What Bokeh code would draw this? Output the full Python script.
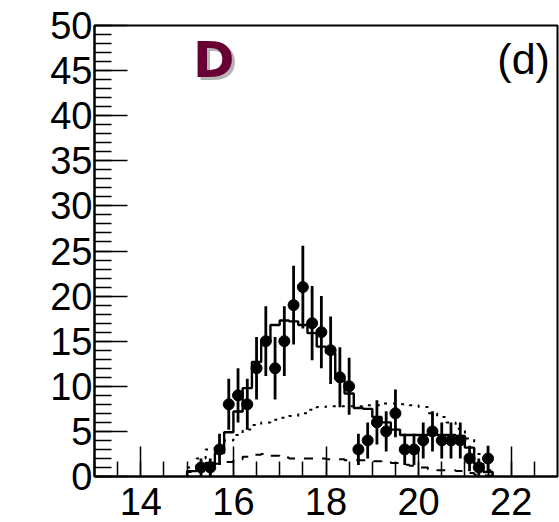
from bokeh.plotting import figure
from bokeh.models import FixedTicker, Label, Range1d
from bokeh.embed import file_html
from bokeh.resources import INLINE

# ---- data ----
pt_x = [15.3, 15.5, 15.7, 15.9, 16.1, 16.3, 16.5, 16.7, 16.9, 17.1, 17.3, 17.5,
        17.7, 17.9, 18.1, 18.3, 18.5, 18.7, 18.9, 19.1, 19.3, 19.5, 19.7, 19.9,
        20.1, 20.3, 20.5, 20.7, 20.9, 21.1, 21.3, 21.5]
pt_y = [1, 1, 3, 8, 9, 8, 12, 15, 12, 15, 19, 21, 17, 16, 14, 11, 10, 3, 4, 6,
        5, 7, 3, 3, 4, 5, 4, 4, 4, 2, 1, 2]
pt_err = [1.0, 1.0, 1.73, 2.83, 3.0, 2.83, 3.46, 3.87, 3.46, 3.87, 4.36, 4.58,
          4.12, 4.0, 3.74, 3.32, 3.16, 1.73, 2.0, 2.45, 2.24, 2.65, 1.73, 1.73,
          2.0, 2.24, 2.0, 2.0, 2.0, 1.41, 1.0, 1.41]

hist_edges = [15.0, 15.2, 15.4, 15.6, 15.8, 16.0, 16.2, 16.4, 16.6, 16.8, 17.0,
              17.2, 17.4, 17.6, 17.8, 18.0, 18.2, 18.4, 18.6, 18.8, 19.0, 19.2,
              19.4, 19.6, 19.8, 20.0, 20.2, 20.4, 20.6, 20.8, 21.0, 21.2, 21.4, 21.6]
solid_h = [0.6, 1.0, 1.5, 2.6, 4.9, 7.2, 9.8, 12.7, 15.0, 16.8, 17.3, 17.2, 16.8,
           15.9, 14.4, 13.7, 10.8, 9.2, 7.6, 7.5, 6.6, 6.0, 5.2, 4.6, 4.6, 4.6,
           4.7, 4.6, 4.6, 4.5, 3.2, 1.4, 0.5]
dotted_h = [1.0, 2.0, 3.0, 3.5, 4.0, 4.6, 5.2, 5.7, 6.0, 6.3, 6.5, 6.7, 7.0, 7.4,
            7.7, 7.8, 7.8, 7.8, 7.8, 7.9, 7.9, 8.1, 8.1, 8.0, 7.9, 7.7, 7.0, 6.6,
            6.0, 5.3, 4.2, 2.5, 0.7]
dashed_h = [0.5, 0.8, 1.1, 1.4, 1.6, 1.9, 2.2, 2.4, 2.5, 2.3, 2.1, 2.0, 2.0, 2.0,
            2.0, 1.9, 1.9, 1.8, 1.8, 1.8, 1.7, 1.6, 1.5, 1.3, 1.2, 1.0, 0.8, 0.7,
            0.7, 0.6, 0.4, 0.2, 0.1]

x_major = [14, 16, 18, 20, 22]
x_minor = [13.0, 13.5, 14.0, 14.5, 15.0, 15.5, 16.0, 16.5, 17.0, 17.5, 18.0, 18.5,
           19.0, 19.5, 20.0, 20.5, 21.0, 21.5, 22.0, 22.5]
y_major = [0, 5, 10, 15, 20, 25, 30, 35, 40, 45, 50]
y_minor = list(range(0, 51))

FONT = "Liberation Sans"

p = figure(width=559, height=522, output_backend="svg", toolbar_location=None,
           x_range=Range1d(13, 23), y_range=Range1d(0, 50),
           min_border_left=94, min_border_top=25, min_border_right=2,
           min_border_bottom=46)
p.grid.visible = False
p.outline_line_color = "black"
p.outline_line_width = 2
p.background_fill_color = "white"
p.border_fill_color = "white"

for ax in (p.xaxis[0], p.yaxis[0]):
    ax.axis_line_width = 2
    ax.axis_line_color = "black"
    ax.major_tick_line_width = 1.5
    ax.minor_tick_line_width = 1.5
    ax.major_tick_out = 0
    ax.minor_tick_out = 0
    ax.major_label_text_font = FONT
    ax.major_label_text_font_size = "38px"
    ax.major_label_text_color = "black"

p.xaxis.ticker = FixedTicker(ticks=x_major, minor_ticks=x_minor)
p.xaxis.major_tick_in = 30
p.xaxis.minor_tick_in = 15
p.xaxis.major_label_standoff = 11
p.yaxis.ticker = FixedTicker(ticks=y_major, minor_ticks=y_minor)
p.yaxis.major_tick_in = 33
p.yaxis.minor_tick_in = 17
p.yaxis.major_label_standoff = 2


def step_path(edges, vals):
    xs = [edges[0]]
    ys = [0]
    for i, v in enumerate(vals):
        xs += [edges[i], edges[i + 1]]
        ys += [v, v]
    xs.append(edges[-1])
    ys.append(0)
    return xs, ys


sx, sy = step_path(hist_edges, dotted_h)
p.line(sx, sy, line_color="black", line_width=2, line_dash="3 6")
sx, sy = step_path(hist_edges, dashed_h)
p.line(sx, sy, line_color="black", line_width=2, line_dash="9 9")
sx, sy = step_path(hist_edges, solid_h)
p.line(sx, sy, line_color="black", line_width=2.4)

lo = [y - e for y, e in zip(pt_y, pt_err)]
hi = [y + e for y, e in zip(pt_y, pt_err)]
p.segment(x0=pt_x, y0=lo, x1=pt_x, y1=hi, line_color="black", line_width=2.8)
p.scatter(pt_x, pt_y, size=11, marker="circle", fill_color="black", line_color="black")

# panel letters
p.add_layout(Label(x=15.192, y=45.8, text="D", text_font="DejaVu Sans",
                   text_font_style="bold", text_font_size="50px",
                   text_baseline="alphabetic", text_color="#b4b4b4"))
p.add_layout(Label(x=15.127, y=46.13, text="D", text_font="DejaVu Sans",
                   text_font_style="bold", text_font_size="50px",
                   text_baseline="alphabetic", text_color="#680034"))
p.add_layout(Label(x=21.70, y=46.3, text="(d)", text_font=FONT,
                   text_font_size="43px", text_baseline="alphabetic",
                   text_color="black"))

open("out.html", "w").write(file_html(p, INLINE))
